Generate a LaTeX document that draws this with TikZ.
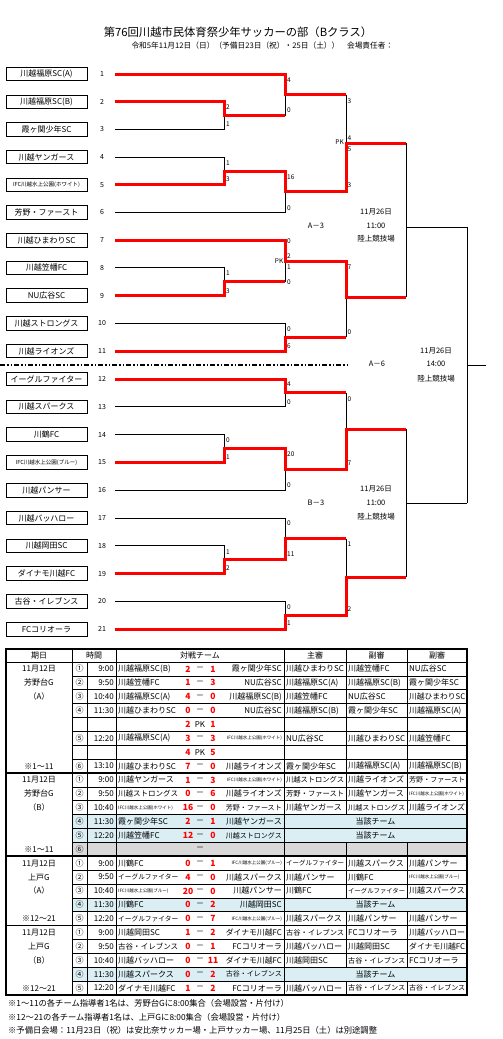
\documentclass[tikz,border=0pt]{standalone}
\usepackage{fontspec}
\setmainfont{Noto Sans CJK JP}
\usepackage{graphicx}
\definecolor{winred}{HTML}{FF0000}
\definecolor{hlblue}{HTML}{DAEEF3}
\definecolor{hlgray}{HTML}{D9D9D9}
\newcommand\fsz[1]{\fontsize{#1}{#1}\selectfont}
\newsavebox\fitbx
\newcommand\fitw[2]{\sbox\fitbx{#2}\ifdim\wd\fitbx>#1\resizebox{#1}{!}{\usebox\fitbx}\else\usebox\fitbx\fi}
\newcommand\rowy[1]{662+(#1+0.5)*13.875}
\newcommand\ifcw{{\fsz{4.5}IFC川越水上公園(ホワイト)}}
\newcommand\ifcb{{\fsz{4.5}IFC川越水上公園(ブルー)}}
\tikzset{
 blk/.style={line width=0.9pt},
 rd/.style={line width=3pt, draw=winred},
 teambox/.style={draw, line width=0.8pt, minimum width=81pt, minimum height=13.5pt, inner sep=0pt, font=\fsz{8}},
 tnum/.style={inner sep=0pt, font=\fsz{7}},
 scl/.style={anchor=west, inner sep=0pt, font=\fsz{6.5}},
 lbl/.style={inner sep=0pt, font=\fsz{7.5}},
 cell/.style={inner sep=0pt, font=\fsz{8}},
 score/.style={inner sep=0pt, font=\fsz{8.5}\bfseries, text=winred},
 thinl/.style={line width=0.6pt},
 thickl/.style={line width=1.6pt},
}
\newcommand\mrow[7]{%
 \node[cell] (n#1) at (79.5,{\rowy{#1}}) {#2};
 \node[cell,anchor=east] (tm#1) at (114,{\rowy{#1}}) {#3};
 \node[cell,anchor=west] (ta#1) at (118,{\rowy{#1}}) {\fitw{60pt}{#4}};
 \node[score] (sa#1) at (188,{\rowy{#1}}) {#5};
 \node[cell] (dash#1) at (200,{\rowy{#1}}) {－};
 \node[score] (sb#1) at (213,{\rowy{#1}}) {#6};
 \node[cell,anchor=east] (tb#1) at (282,{\rowy{#1}}) {\fitw{56pt}{#7}};
}
\newcommand\refs[4]{%
 \node[cell,anchor=west] (ra#1) at (286,{\rowy{#1}}) {\fitw{58pt}{#2}};
 \node[cell,anchor=west] (rb#1) at (348,{\rowy{#1}}) {\fitw{57pt}{#3}};
 \node[cell,anchor=west] (rc#1) at (409,{\rowy{#1}}) {\fitw{56pt}{#4}};
}
\newcommand\merged[1]{\node[cell] (m#1) at (375.5,{\rowy{#1}}) {当該チーム};}
\newcommand\pkrow[3]{%
 \node[score] (pa#1) at (188,{\rowy{#1}}) {#2};
 \node[cell] (pk#1) at (200,{\rowy{#1}}) {PK};
 \node[score] (pb#1) at (213,{\rowy{#1}}) {#3};
}
\begin{document}
\begin{tikzpicture}[x=1pt,y=-1pt]
\useasboundingbox (0,0) rectangle (503,1039);
\fill[white] (0,0) rectangle (503,1039);

% titles
\node[font=\fsz{11.3}] (title) at (238,32) {第76回川越市民体育祭少年サッカーの部（Bクラス）};
\node[font=\fsz{7.7}, anchor=west] (sub) at (128,46) {令和5年11月12日（日）（予備日23日（祝）・25日（土））　会場責任者：};

% teams
\foreach \i/\nm in {1/{川越福原SC(A)},2/{川越福原SC(B)},3/{霞ヶ関少年SC},4/{川越ヤンガース},5/{\fsz{5.5}IFC川越水上公園(ホワイト)},6/{芳野・ファースト},7/{川越ひまわりSC},8/{川越笠幡FC},9/{NU広谷SC},10/{川越ストロングス},11/{川越ライオンズ},12/{イーグルファイター},13/{川越スパークス},14/{川鶴FC},15/{\fsz{5.5}IFC川越水上公園(ブルー)},16/{川越パンサー},17/{川越バッハロー},18/{川越岡田SC},19/{ダイナモ川越FC},20/{古谷・イレブンス},21/{FCコリオーラ}}{
  \pgfmathsetmacro\ty{\i<12 ? 74+(\i-1)*27.7 : 379+(\i-12)*27.8}
  \node[teambox] (t\i) at (46.5,\ty) {\nm};
  \node[tnum] (n\i) at (102,\ty) {\i};
}

% black bracket lines
\draw[blk] (115,129.4) -| (224,115.5);
\draw[blk] (115,157.1) -| (224,171);
\draw[blk] (115,212.5) -| (285,191.7);
\draw[blk] (115,267.9) -| (224,281.7);
\draw[blk] (115,323.3) -| (285,337.2);
\draw[blk] (115,406.8) -| (285,392.9);
\draw[blk] (115,434.6) -| (224,448.5);
\draw[blk] (115,490.2) -| (285,469.3);
\draw[blk] (115,518) -| (285,538.9);
\draw[blk] (115,545.8) -| (224,559.7);
\draw[blk] (115,601.4) -| (285,615.3);
\draw[blk] (285,94.7) -- (285,115.5);
\draw[blk] (346,94.7) -- (346,143.2);
\draw[blk] (285,261) -- (285,281.7);
\draw[blk] (346,297) -- (346,337.2);
\draw[blk] (346,392.9) -- (346,429);
\draw[blk] (346,538.9) -- (346,577);
\draw[blk] (406,143.2) -- (406,297);
\draw[blk] (406,227) -- (467,227);
\draw[blk] (406,429) -- (406,577);
\draw[blk] (406,503) -- (467,503);
\draw[blk] (467,227) -- (467,503);
\draw[blk] (467,365) -- (486,365);

% red winner paths
\draw[rd] (115,74) -| (285,94.7) -- (346,94.7);
\draw[rd] (115,101.7) -| (224,115.5) -- (285,115.5);
\draw[rd] (115,184.8) -| (224,171) -| (285,191.7) -- (346,191.7) |- (406,143.2);
\draw[rd] (115,240.2) -| (285,261) -- (346,261) |- (406,297);
\draw[rd] (115,295.6) -| (224,281.7) -- (285,281.7);
\draw[rd] (115,351) -| (285,337.2) -- (346,337.2);
\draw[rd] (115,379) -| (285,392.9) -- (346,392.9);
\draw[rd] (115,462.4) -| (224,448.5) -| (285,469.3) -- (346,469.3) |- (406,429);
\draw[rd] (115,573.6) -| (224,559.7) -| (285,538.9) -- (346,538.9);
\draw[rd] (115,629.2) -| (285,615.3) -- (346,615.3) |- (406,577);

% scores in bracket
\foreach \x/\y/\t [count=\k] in {226/107.5/2,226/124.5/1,226/163/1,226/179/3,226/273/1,226/291/3,226/440/0,226/457/1,226/552/1,226/568/2,
 287/80/4,287/110/0,287/177/16,287/208/0,287/241/0,287/256/2,287/267/1,287/282/0,287/329/0,287/346/6,287/384/4,287/402/0,287/454/20,287/485/0,287/523/0,287/554/11,287/607/0,287/623/1,
 347.5/101/3,347.5/138/4,347.5/149/5,347.5/185/3,347.5/267/7,347.5/332/0,347.5/399/0,347.5/463/7,347.5/544/1,347.5/609/2}{
  \node[scl] (sc\k) at (\x,\y) {\t};
}
\node[scl,anchor=east] (pkA) at (344,142) {PK};
\node[scl,anchor=east] (pkB) at (283.5,261) {PK};

% venue labels
\node[lbl] (a3) at (316,226) {A－3};
\node[lbl] (a3d) at (376,212) {11月26日};
\node[lbl] (a3t) at (376,226) {11:00};
\node[lbl] (a3p) at (376,239) {陸上競技場};
\node[lbl] (a6) at (377,364) {A－6};
\node[lbl] (a6d) at (436,351) {11月26日};
\node[lbl] (a6t) at (436,364) {14:00};
\node[lbl] (a6p) at (436,379) {陸上競技場};
\node[lbl] (b3) at (316,503) {B－3};
\node[lbl] (b3d) at (376,489) {11月26日};
\node[lbl] (b3t) at (376,503) {11:00};
\node[lbl] (b3p) at (376,517) {陸上競技場};

% divider
\draw[line width=1.3pt, dash pattern=on 5pt off 2pt on 1.5pt off 2pt on 1.5pt off 2pt] (0,365) -- (347,365);

% ===== table =====
\foreach \r in {11,12,17,22}{\fill[hlblue] (72,{662+\r*13.875}) rectangle (467,{662+(\r+1)*13.875});}
\fill[hlgray] (72,{662+13*13.875}) rectangle (467,{662+14*13.875});
\foreach \r in {1,...,7,9,10,...,13,15,16,...,18,20,21,...,23}{\draw[thinl] (72,{662+\r*13.875}) -- (467,{662+\r*13.875});}
\draw[thinl] (6,662) -- (467,662);
\draw[thinl] (72,649) -- (72,995);
\draw[thinl] (87,662) -- (87,995);
\draw[thinl] (116,649) -- (116,995);
\draw[thinl] (284,649) -- (284,995);
\foreach \xx in {346,407}{
 \draw[thinl] (\xx,649) -- (\xx,{662+11*13.875});
 \draw[thinl] (\xx,{662+13*13.875}) -- (\xx,{662+17*13.875});
 \draw[thinl] (\xx,{662+18*13.875}) -- (\xx,{662+22*13.875});
 \draw[thinl] (\xx,{662+23*13.875}) -- (\xx,995);
}
\foreach \r in {8,14,19}{\draw[thickl] (6,{662+\r*13.875}) -- (467,{662+\r*13.875});}
\draw[thickl] (6,649) rectangle (467,995);

% header
\node[cell] (h1) at (39,655.5) {期日};
\node[cell] (h2) at (94,655.5) {時間};
\node[cell] (h3) at (200,655.5) {対戦チーム};
\node[cell] (h4) at (315,655.5) {主審};
\node[cell] (h5) at (376.5,655.5) {副審};
\node[cell] (h6) at (437,655.5) {副審};

% date column
\foreach \r/\t [count=\k] in {0/{11月12日},1/{芳野台G},2/{（A）},7/{※1～11},8/{11月12日},9/{芳野台G},10/{（B）},13/{※1～11},14/{11月12日},15/{上戸G},16/{（A）},18/{※12～21},19/{11月12日},20/{上戸G},21/{（B）},23/{※12～21}}{
 \node[cell] (d\k) at (39,{\rowy{\r}}) {\t};
}

% rows
\mrow{0}{①}{9:00}{川越福原SC(B)}{2}{1}{霞ヶ関少年SC}\refs{0}{川越ひまわりSC}{川越笠幡FC}{NU広谷SC}
\mrow{1}{②}{9:50}{川越笠幡FC}{1}{3}{NU広谷SC}\refs{1}{川越福原SC(A)}{川越福原SC(B)}{霞ヶ関少年SC}
\mrow{2}{③}{10:40}{川越福原SC(A)}{4}{0}{川越福原SC(B)}\refs{2}{川越笠幡FC}{NU広谷SC}{川越ひまわりSC}
\mrow{3}{④}{11:30}{川越ひまわりSC}{0}{0}{NU広谷SC}\refs{3}{川越福原SC(B)}{霞ヶ関少年SC}{川越福原SC(A)}
\pkrow{4}{2}{1}
\mrow{5}{⑤}{12:20}{川越福原SC(A)}{3}{3}{\ifcw}\refs{5}{NU広谷SC}{川越ひまわりSC}{川越笠幡FC}
\pkrow{6}{4}{5}
\mrow{7}{⑥}{13:10}{川越ひまわりSC}{7}{0}{川越ライオンズ}\refs{7}{霞ヶ関少年SC}{川越福原SC(A)}{川越福原SC(B)}
\mrow{8}{①}{9:00}{川越ヤンガース}{1}{3}{\ifcw}\refs{8}{川越ストロングス}{川越ライオンズ}{芳野・ファースト}
\mrow{9}{②}{9:50}{川越ストロングス}{0}{6}{川越ライオンズ}\refs{9}{芳野・ファースト}{川越ヤンガース}{\ifcw}
\mrow{10}{③}{10:40}{\ifcw}{16}{0}{芳野・ファースト}\refs{10}{川越ヤンガース}{川越ストロングス}{川越ライオンズ}
\mrow{11}{④}{11:30}{霞ヶ関少年SC}{2}{1}{川越ヤンガース}\merged{11}
\mrow{12}{⑤}{12:20}{川越笠幡FC}{12}{0}{川越ストロングス}\merged{12}
\node[cell] (n13) at (79.5,{\rowy{13}}) {⑥};
\node[cell] (dash13) at (200,{\rowy{13}}) {－};
\mrow{14}{①}{9:00}{川鶴FC}{0}{1}{\ifcb}\refs{14}{イーグルファイター}{川越スパークス}{川越パンサー}
\mrow{15}{②}{9:50}{イーグルファイター}{4}{0}{川越スパークス}\refs{15}{川越パンサー}{川鶴FC}{\ifcb}
\mrow{16}{③}{10:40}{\ifcb}{20}{0}{川越パンサー}\refs{16}{川鶴FC}{イーグルファイター}{川越スパークス}
\mrow{17}{④}{11:30}{川鶴FC}{0}{2}{川越岡田SC}\merged{17}
\mrow{18}{⑤}{12:20}{イーグルファイター}{0}{7}{\ifcb}\refs{18}{川越スパークス}{川越パンサー}{川越パンサー}
\mrow{19}{①}{9:00}{川越岡田SC}{1}{2}{ダイナモ川越FC}\refs{19}{古谷・イレブンス}{FCコリオーラ}{川越バッハロー}
\mrow{20}{②}{9:50}{古谷・イレブンス}{0}{1}{FCコリオーラ}\refs{20}{川越バッハロー}{川越岡田SC}{ダイナモ川越FC}
\mrow{21}{③}{10:40}{川越バッハロー}{0}{11}{ダイナモ川越FC}\refs{21}{川越岡田SC}{古谷・イレブンス}{FCコリオーラ}
\mrow{22}{④}{11:30}{川越スパークス}{0}{2}{古谷・イレブンス}\merged{22}
\mrow{23}{⑤}{12:20}{ダイナモ川越FC}{1}{2}{FCコリオーラ}\refs{23}{川越バッハロー}{古谷・イレブンス}{古谷・イレブンス}

% footnotes
\node[font=\fsz{8.3}, anchor=west, inner sep=0pt] (f1) at (8,1003) {※1～11の各チーム指導者1名は、芳野台Gに8:00集合（会場設営・片付け）};
\node[font=\fsz{8.3}, anchor=west, inner sep=0pt] (f2) at (8,1017) {※12～21の各チーム指導者1名は、上戸Gに8:00集合（会場設営・片付け）};
\node[font=\fsz{8.3}, anchor=west, inner sep=0pt] (f3) at (8,1030) {※予備日会場：11月23日（祝）は安比奈サッカー場・上戸サッカー場、11月25日（土）は別途調整};
\end{tikzpicture}
\end{document}
